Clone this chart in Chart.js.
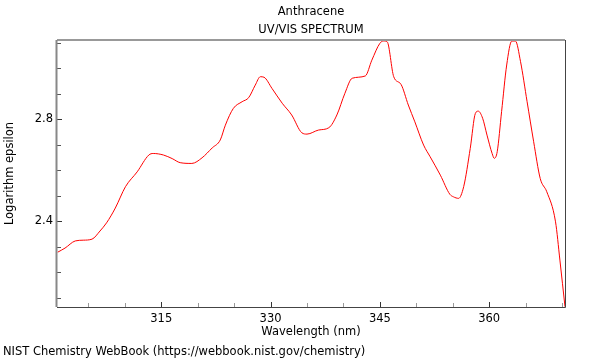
<!DOCTYPE html>
<html>
<head>
<meta charset="utf-8">
<script src="https://cdn.jsdelivr.net/npm/chart.js@4/dist/chart.umd.min.js"></script>
<style>
  html, body { margin: 0; padding: 0; background: #fff; }
</style>
</head>
<body>
<canvas id="spectrum" width="600" height="360"></canvas>
<script>
// data
const wavelength = [
  300.8, 301.8, 303.2, 304.3, 305.5, 306.6, 307.5, 308.7, 310.1, 311.7,
  313.3, 313.9, 315.3, 316.5, 317.6, 319.2, 320.6, 322.0, 323.1, 323.8,
  324.9, 326.1, 327.0, 327.9, 328.6, 329.1, 330.2, 331.6, 332.9, 334.3,
  335.0, 336.6, 338.0, 339.1, 340.2, 341.2, 343.0, 343.9, 345.0, 345.5,
  346.0, 346.9, 347.9, 348.9, 349.8, 351.0, 351.9, 353.3, 354.6, 355.1,
  355.8, 356.5, 357.4, 358.1, 358.5, 359.1, 359.7, 360.4, 360.7, 361.1,
  361.7, 362.4, 363.1, 363.6, 364.3, 365.2, 366.1, 367.0, 367.9, 369.1,
  369.7, 370.4
];
const logEpsilon = [
  2.278, 2.294, 2.322, 2.325, 2.329, 2.361, 2.393, 2.451, 2.535, 2.593,
  2.659, 2.665, 2.659, 2.645, 2.629, 2.626, 2.648, 2.687, 2.718, 2.776,
  2.842, 2.868, 2.884, 2.933, 2.966, 2.964, 2.920, 2.862, 2.816, 2.746,
  2.741, 2.757, 2.766, 2.816, 2.901, 2.960, 2.969, 3.031, 3.097, 3.106,
  3.103, 2.966, 2.936, 2.855, 2.789, 2.698, 2.652, 2.580, 2.505, 2.495,
  2.489, 2.535, 2.685, 2.822, 2.831, 2.803, 2.737, 2.665, 2.646, 2.672,
  2.829, 3.012, 3.106, 3.106, 3.025, 2.868, 2.711, 2.567, 2.515, 2.397,
  2.247, 2.064
];
const xLabelEvery = 15;   // labelled wavelength ticks
const yLabelEvery = 0.4;  // labelled epsilon ticks

const titleLines = ["Anthracene", "UV/VIS SPECTRUM"];
const footerText = "NIST Chemistry WebBook (https://webbook.nist.gov/chemistry)";

const fontSize = 11.5;
Chart.defaults.font.family = "'DejaVu Sans', sans-serif";
Chart.defaults.font.size = fontSize;
Chart.defaults.color = "#000";

function isMultiple(v, step) {
  const r = v / step;
  return Math.abs(r - Math.round(r)) < 1e-6;
}

// frame, inward ticks and footer
const framePlugin = {
  id: "frame",
  afterDraw(chart) {
    const { ctx, chartArea: a, scales } = chart;
    const x = scales.x, y = scales.y;
    ctx.save();
    ctx.lineWidth = 1;

    x.ticks.forEach(t => {
      const px = Math.round(x.getPixelForValue(t.value)) + 0.5;
      const major = t.label !== "";
      ctx.strokeStyle = major ? "#333" : "#999";
      ctx.beginPath();
      ctx.moveTo(px, a.bottom);
      ctx.lineTo(px, a.bottom - (major ? 5 : 4));
      ctx.stroke();
    });
    y.ticks.forEach(t => {
      const py = Math.round(y.getPixelForValue(t.value)) + 0.5;
      const major = t.label !== "";
      ctx.strokeStyle = major ? "#333" : "#555";
      ctx.beginPath();
      ctx.moveTo(a.left, py);
      ctx.lineTo(a.left + (major ? 5 : 4), py);
      ctx.stroke();
    });

    // top border
    ctx.strokeStyle = "#999";
    ctx.lineWidth = 2;
    ctx.beginPath();
    ctx.moveTo(a.left, a.top);
    ctx.lineTo(a.right, a.top);
    ctx.stroke();
    // left axis
    ctx.strokeStyle = "#888";
    ctx.lineWidth = 2;
    ctx.beginPath();
    ctx.moveTo(a.left - 0.5, a.top);
    ctx.lineTo(a.left - 0.5, a.bottom);
    ctx.stroke();
    // bottom and right
    ctx.strokeStyle = "#444";
    ctx.lineWidth = 1;
    ctx.beginPath();
    ctx.moveTo(a.left, a.bottom + 0.5);
    ctx.lineTo(a.right + 0.5, a.bottom + 0.5);
    ctx.moveTo(a.right + 0.5, a.bottom + 0.5);
    ctx.lineTo(a.right + 0.5, a.top);
    ctx.stroke();

    ctx.fillStyle = "#000";
    ctx.font = fontSize + "px 'DejaVu Sans', sans-serif";
    ctx.textBaseline = "middle";
    ctx.textAlign = "left";
    ctx.fillText(footerText, 3, 352);
    ctx.restore();
  }
};

new Chart(document.getElementById("spectrum"), {
  type: "line",
  data: {
    datasets: [{
      data: wavelength.map((w, i) => ({ x: w, y: logEpsilon[i] })),
      borderColor: "#ff0000",
      borderWidth: 1,
      pointRadius: 0,
      fill: false,
      cubicInterpolationMode: "monotone"
    }]
  },
  options: {
    responsive: false,
    animation: false,
    layout: { padding: { left: 0, right: 35, top: 0, bottom: 19 } },
    plugins: {
      legend: { display: false },
      tooltip: { enabled: false },
      title: {
        display: true,
        text: titleLines,
        fullSize: false,
        font: { size: fontSize, weight: "normal", lineHeight: 18 / fontSize },
        padding: { top: 3, bottom: 1 }
      }
    },
    scales: {
      x: {
        type: "linear",
        min: 300.7,
        max: 370.4,
        afterFit: s => { s.height = 34; },
        grid: { drawOnChartArea: false, drawTicks: false },
        border: { display: false },
        ticks: {
          stepSize: 5,
          includeBounds: false,
          autoSkip: false,
          maxRotation: 0,
          padding: 5,
          callback: v => isMultiple(v, xLabelEvery) ? String(Math.round(v)) : ""
        },
        title: { display: true, text: "Wavelength (nm)", padding: { top: 0, bottom: 2 } }
      },
      y: {
        min: 2.063,
        max: 3.11,
        afterFit: s => { s.width = 57; },
        grid: { drawOnChartArea: false, drawTicks: false },
        border: { display: false },
        ticks: {
          stepSize: 0.1,
          includeBounds: false,
          autoSkip: false,
          padding: 4,
          callback: v => isMultiple(v, yLabelEvery) ? v.toFixed(1) : ""
        },
        title: { display: true, text: "Logarithm epsilon", padding: { top: 3, bottom: 0 } }
      }
    }
  },
  plugins: [framePlugin]
});
</script>
</body>
</html>
